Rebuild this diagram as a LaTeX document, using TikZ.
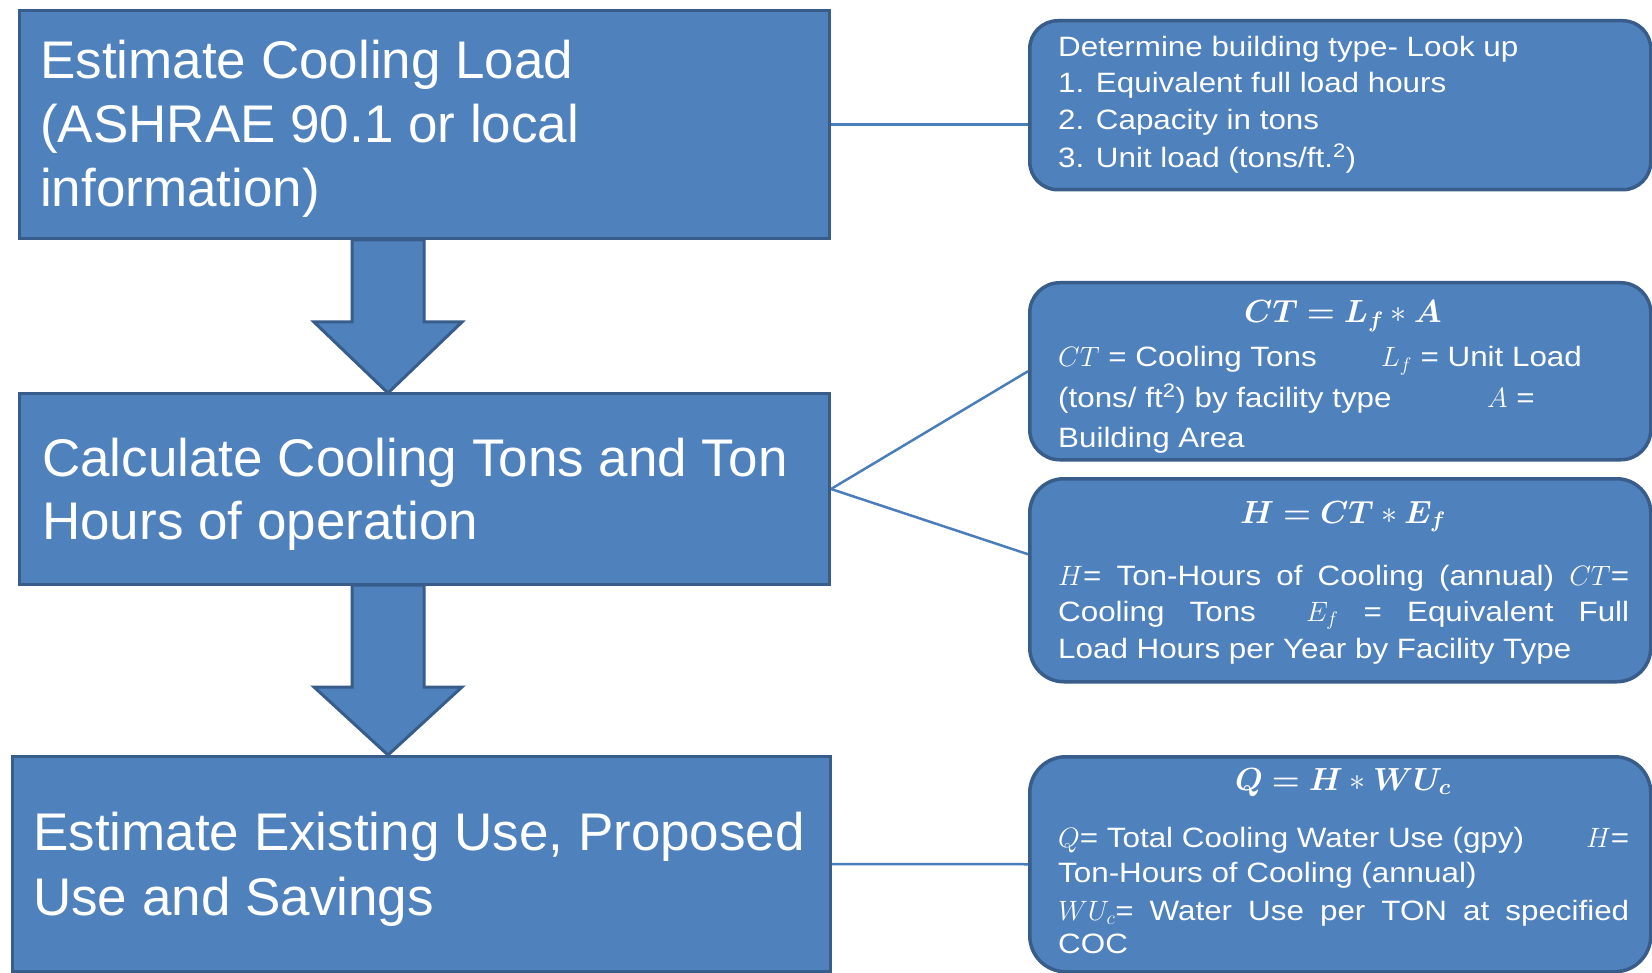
\RequirePackage{fix-cm}
\documentclass[tikz,border=0pt]{standalone}
\usepackage{amsmath,bm}
\usepackage{fontspec}
\setmainfont{Liberation Sans}
\newfontfamily\rfont[FakeStretch=1.12]{Liberation Sans}
\usetikzlibrary{calc}
\definecolor{fillc}{HTML}{4F81BD}
\definecolor{bdr}{HTML}{385D8A}
\definecolor{connc}{HTML}{4A7EBB}
\newcommand\bigtxt{\fontsize{53}{64}\selectfont}
\newcommand\smtxt{\rfont\fontsize{28}{37}\selectfont}
\newcommand\ttltxt{\fontsize{32}{38}\selectfont}
\newcommand\jline[1]{\hbox to 571pt{\spaceskip=0.2em plus 1fill\relax #1}}
\pgfdeclarelayer{bg}
\pgfsetlayers{bg,main}
\begin{document}
\begin{tikzpicture}[x=1pt,y=-1pt,
  lbox/.style={draw=bdr,fill=fillc,line width=3pt,inner sep=0pt,anchor=north west},
  rbox/.style={lbox,line width=3.5pt},
  big/.style={anchor=base west,inner sep=0pt,text=white,font=\bigtxt},
  sm/.style={anchor=base west,inner sep=0pt,text=white,font=\smtxt},
  ttl/.style={anchor=base,inner sep=0pt,text=white,font=\ttltxt},
  link/.style={draw=connc,line width=2.5pt},
  barrow/.style={draw=bdr,fill=fillc,line width=3pt,line join=miter}]
\begin{pgfonlayer}{bg}
\fill[white] (0,0) rectangle (1652,973);
\end{pgfonlayer}
\useasboundingbox (0,0) rectangle (1652,973);

% left process boxes
\node[lbox,minimum width=810pt,minimum height=228pt] (b1) at (18,9) {};
\node[lbox,minimum width=810pt,minimum height=191pt] (b2) at (18,392) {};
\node[lbox,minimum width=818pt,minimum height=215pt] (b3) at (11,755) {};

% right note boxes
\node[rbox,rounded corners=28pt,minimum width=621pt,minimum height=169pt] (r1) at (1028,19) {};
\node[rbox,rounded corners=30pt,minimum width=621pt,minimum height=177pt] (r2) at (1028,281) {};
\node[rbox,rounded corners=34pt,minimum width=621pt,minimum height=203pt] (r3) at (1028,477) {};
\node[rbox,rounded corners=36pt,minimum width=621pt,minimum height=215pt] (r4) at (1028,755) {};

% block arrows
\draw[barrow] (352,240) -- (424,240) -- (424,322) -- (462,322) -- (388,393) -- (314,322) -- (352,322) -- cycle;
\draw[barrow] (352,585) -- (424,585) -- (424,687) -- (462,687) -- (388,755) -- (314,687) -- (352,687) -- cycle;

% connectors
\begin{pgfonlayer}{bg}
\draw[link] (b1.east) -- (b1.east -| r1.west);
\draw[link] (b2.east) -- (r2.west);
\draw[link] (b2.east) -- ($(r3.north west)!0.374!(r3.south west)$);
\draw[link] (b3.east) -- (r4.west);
\end{pgfonlayer}

% left texts
\node[big] (t1a) at (40,79) {Estimate Cooling Load};
\node[big] (t1b) at (40,143) {(ASHRAE 90.1 or local};
\node[big] (t1c) at (40,207) {information)};
\node[big] (t2a) at (42,476) {Calculate Cooling Tons and Ton};
\node[big] (t2b) at (42,539) {Hours of operation};
\node[big] (t3a) at (33,850) {Estimate Existing Use, Proposed};
\node[big] (t3b) at (33,915) {Use and Savings};

% right box 1
\node[sm] (s1a) at (1058,57) {Determine building type- Look up};
\node[sm] (s1b) at (1058,93) {1. Equivalent full load hours};
\node[sm] (s1c) at (1058,130) {2. Capacity in tons};
\node[sm] (s1d) at (1058,168) {3. Unit load (tons/ft.\textsuperscript{2})};

% right box 2
\node[ttl] (h2) at (1343,323) {$\bm{CT = L_f} \ast \bm{A}$};
\node[sm] (s2a) at (1058,367) {\makebox[323pt][l]{$CT$ = Cooling Tons}$L_f$ = Unit Load};
\node[sm] (s2b) at (1058,408) {\makebox[429pt][l]{(tons/ ft\textsuperscript{2}) by facility type}$A$ =};
\node[sm] (s2c) at (1058,447) {Building Area};

% right box 3
\node[ttl] (h3) at (1343,523) {$\bm{H = CT} \ast \bm{E_f}$};
\node[sm] (s3a) at (1058,585) {\jline{$H$= Ton-Hours of Cooling (annual) $CT$=}};
\node[sm] (s3b) at (1058,621) {\jline{Cooling Tons~ $E_f$ = Equivalent Full}};
\node[sm] (s3c) at (1058,658) {Load Hours per Year by Facility Type};

% right box 4
\node[ttl] (h4) at (1343,790) {$\bm{Q = H} \ast \bm{WU_c}$};
\node[sm] (s4a) at (1058,847) {\hbox to 571pt{$Q$= Total Cooling Water Use (gpy)\hfill$H$=}};
\node[sm] (s4b) at (1058,882) {Ton-Hours of Cooling (annual)};
\node[sm] (s4c) at (1058,920) {\jline{$WU_c$= Water Use per TON at specified}};
\node[sm] (s4d) at (1058,953) {COC};
\end{tikzpicture}
\end{document}
